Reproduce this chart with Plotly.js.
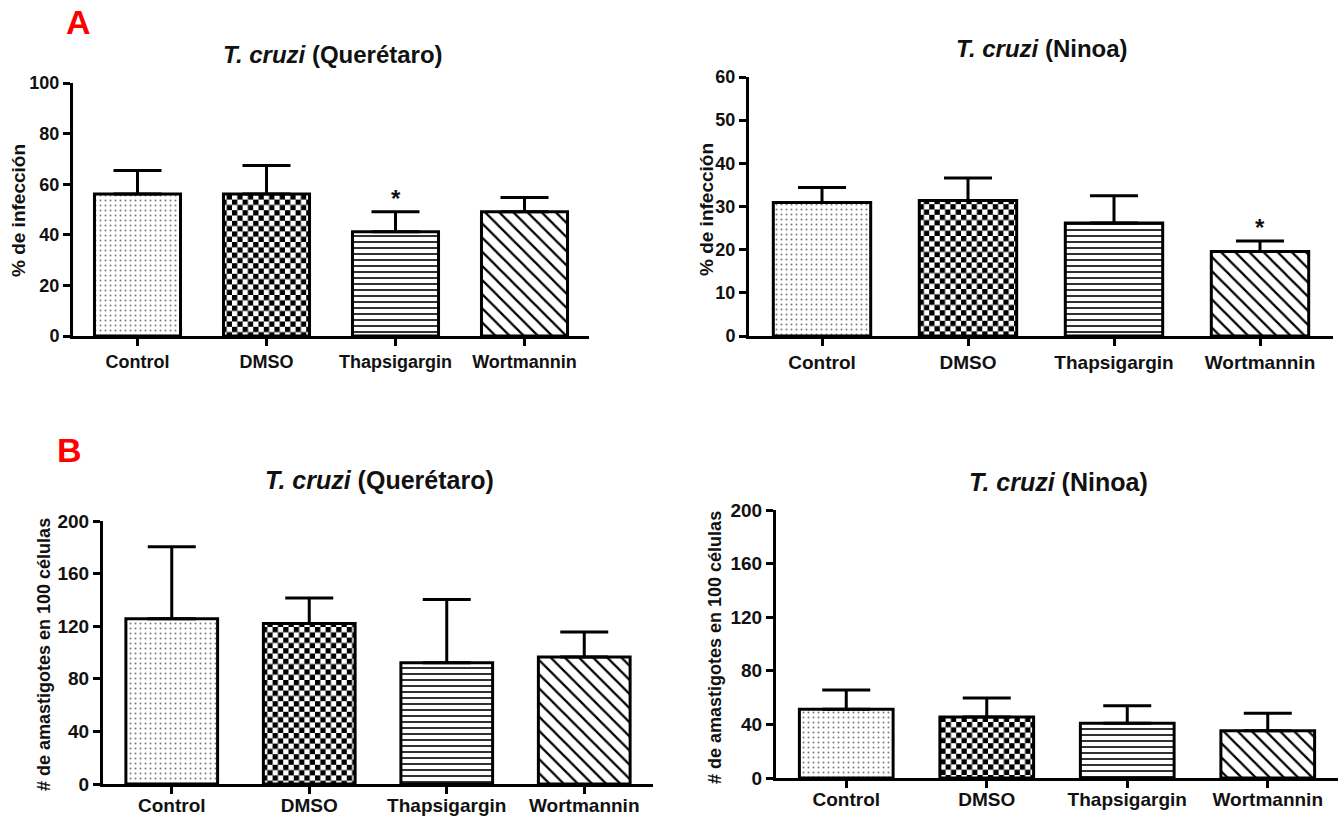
<!DOCTYPE html>
<html>
<head>
<meta charset="utf-8">
<script src="https://cdn.plot.ly/plotly-3.0.1.min.js"></script>
<style>
  html, body { margin: 0; padding: 0; background: #fff; }
  #chart { width: 1340px; height: 818px; }
</style>
</head>
<body>
<svg width="0" height="0" style="position:absolute">
  <defs>
    <pattern id="checker" patternUnits="userSpaceOnUse" width="10.6" height="10.6">
      <rect x="0" y="0" width="10.6" height="10.6" fill="#ffffff"></rect>
      <rect x="0" y="0" width="5.3" height="5.3" fill="#000000"></rect>
      <rect x="5.3" y="5.3" width="5.3" height="5.3" fill="#000000"></rect>
    </pattern>
  </defs>
</svg>
<div id="chart"></div>
<script>
// ---- data ----
const categories = ['Control', 'DMSO', 'Thapsigargin', 'Wortmannin'];

// A: % de infección
const queretaroInfMean = [56.1, 56.1, 41.2, 49.1];
const queretaroInfSem  = [9.3, 11.3, 7.9, 5.6];
const queretaroInfSig  = ['', '', '*', ''];

const ninoaInfMean = [30.9, 31.4, 26.2, 19.6];
const ninoaInfSem  = [3.5, 5.2, 6.3, 2.4];
const ninoaInfSig  = ['', '', '', '*'];

// B: # de amastigotes en 100 células
const queretaroAmaMean = [125.6, 122.0, 92.2, 96.6];
const queretaroAmaSem  = [54.9, 19.5, 48.1, 19.0];

const ninoaAmaMean = [51.3, 45.6, 40.9, 35.2];
const ninoaAmaSem  = [14.4, 14.1, 13.1, 13.1];

// ---- styling ----
const FONT = 'Liberation Sans, Arial, Helvetica, sans-serif';
const W = 1340, H = 818;
const px = v => v / W;
const py = v => 1 - v / H;

const pattern = {
  shape: ['.', '', '-', '\\'],
  fgcolor: ['#7a7a7a', '#000000', '#1a1a1a', '#000000'],
  bgcolor: ['#ffffff', '#ffffff', '#ffffff', '#ffffff'],
  size: [5, 8, 6, 10],
  solidity: [0.12, 0.3, 0.3, 0.22],
  fillmode: 'replace'
};

function barTrace(mean, sem, xa, ya) {
  return {
    type: 'bar',
    x: categories,
    y: mean,
    xaxis: xa,
    yaxis: ya,
    width: 0.667,
    marker: { color: '#ffffff', line: { color: '#000000', width: 3 }, pattern: pattern },
    error_y: {
      type: 'data', symmetric: false, array: sem,
      arrayminus: sem.map(() => 0),
      color: '#000000', thickness: 3, width: 24
    },
    hoverinfo: 'skip'
  };
}

const traces = [
  barTrace(queretaroInfMean, queretaroInfSem, 'x', 'y'),
  barTrace(ninoaInfMean, ninoaInfSem, 'x2', 'y2'),
  barTrace(queretaroAmaMean, queretaroAmaSem, 'x3', 'y3'),
  barTrace(ninoaAmaMean, ninoaAmaSem, 'x4', 'y4')
];

function xAxis(domain, anchor, size, standoff) {
  return {
    domain: domain, anchor: anchor, type: 'category', range: [-0.5, 3.5],
    showline: true, linecolor: '#000', linewidth: 3, mirror: false,
    ticks: 'outside', ticklen: 7, tickwidth: 3, tickcolor: '#000',
    ticklabelstandoff: standoff,
    showgrid: false, zeroline: false, fixedrange: true,
    tickfont: { family: FONT, size: size, color: '#111', weight: 'bold' }
  };
}
function yAxis(domain, anchor, maxv, dtick, size) {
  return {
    domain: domain, anchor: anchor, range: [0, maxv], dtick: dtick, tick0: 0,
    showline: true, linecolor: '#000', linewidth: 3,
    ticks: 'outside', ticklen: 7, tickwidth: 3, tickcolor: '#000',
    showgrid: false, zeroline: false, fixedrange: true,
    tickfont: { family: FONT, size: size, color: '#111', weight: 'bold' }
  };
}

const annotations = [];
function addText(text, x, y, size, opts) {
  annotations.push(Object.assign({
    text: text, x: x, y: y, xref: 'paper', yref: 'paper',
    showarrow: false, xanchor: 'center', yanchor: 'middle',
    font: { family: FONT, size: size, color: '#111', weight: 'bold' }
  }, opts || {}));
}

// panel letters
addText('A', px(78), py(22), 34, { font: { family: FONT, size: 34, color: '#ff0000', weight: 'bold' } });
addText('B', px(69), py(450), 34, { font: { family: FONT, size: 34, color: '#ff0000', weight: 'bold' } });

// subplot titles
addText('<i>T. cruzi</i> (Querétaro)', px(333), py(55), 24);
addText('<i>T. cruzi</i> (Ninoa)', px(1042), py(48), 24);
addText('<i>T. cruzi</i> (Querétaro)', px(379), py(480), 25);
addText('<i>T. cruzi</i> (Ninoa)', px(1058), py(482), 25);

// y-axis titles
addText('% de infección', px(18), py(211), 19, { textangle: -90 });
addText('% de infección', px(706), py(210), 19, { textangle: -90 });
addText('# de amastigotes en 100 células', px(44), py(655), 18, { textangle: -90 });
addText('# de amastigotes en 100 células', px(715), py(648), 18, { textangle: -90 });

// significance asterisks
function addSig(sig, mean, sem, xa, ya) {
  sig.forEach((s, i) => {
    if (!s) return;
    annotations.push({
      text: s, x: categories[i], y: mean[i] + sem[i], xref: xa, yref: ya,
      showarrow: false, xanchor: 'center', yanchor: 'bottom', yshift: -2,
      font: { family: FONT, size: 24, color: '#111', weight: 'bold' }
    });
  });
}
addSig(queretaroInfSig, queretaroInfMean, queretaroInfSem, 'x', 'y');
addSig(ninoaInfSig, ninoaInfMean, ninoaInfSem, 'x2', 'y2');

const layout = {
  width: W, height: H,
  margin: { l: 0, r: 0, t: 0, b: 0 },
  paper_bgcolor: '#ffffff', plot_bgcolor: 'rgba(0,0,0,0)',
  showlegend: false,
  font: { family: FONT, color: '#111' },
  xaxis:  xAxis([px(73), px(589)], 'y', 18, 0),
  yaxis:  yAxis([py(336), py(83)], 'x', 100, 20, 18),
  xaxis2: xAxis([px(749), px(1333)], 'y2', 19, 0),
  yaxis2: yAxis([py(336), py(77)], 'x2', 60, 10, 18),
  xaxis3: xAxis([px(103), px(653)], 'y3', 19, -5),
  yaxis3: yAxis([py(784), py(521)], 'x3', 200, 40, 19),
  xaxis4: xAxis([px(776), px(1338)], 'y4', 19, -5),
  yaxis4: yAxis([py(778), py(510)], 'x4', 200, 40, 19),
  annotations: annotations
};

Plotly.newPlot('chart', traces, layout, { staticPlot: true, displayModeBar: false }).then(gd => {
  // checkerboard fill for the DMSO bars
  gd.querySelectorAll('.barlayer .trace').forEach(tr => {
    const paths = tr.querySelectorAll('.point path');
    if (paths[1]) paths[1].style.fill = 'url(#checker)';
  });
});
</script>
</body>
</html>
